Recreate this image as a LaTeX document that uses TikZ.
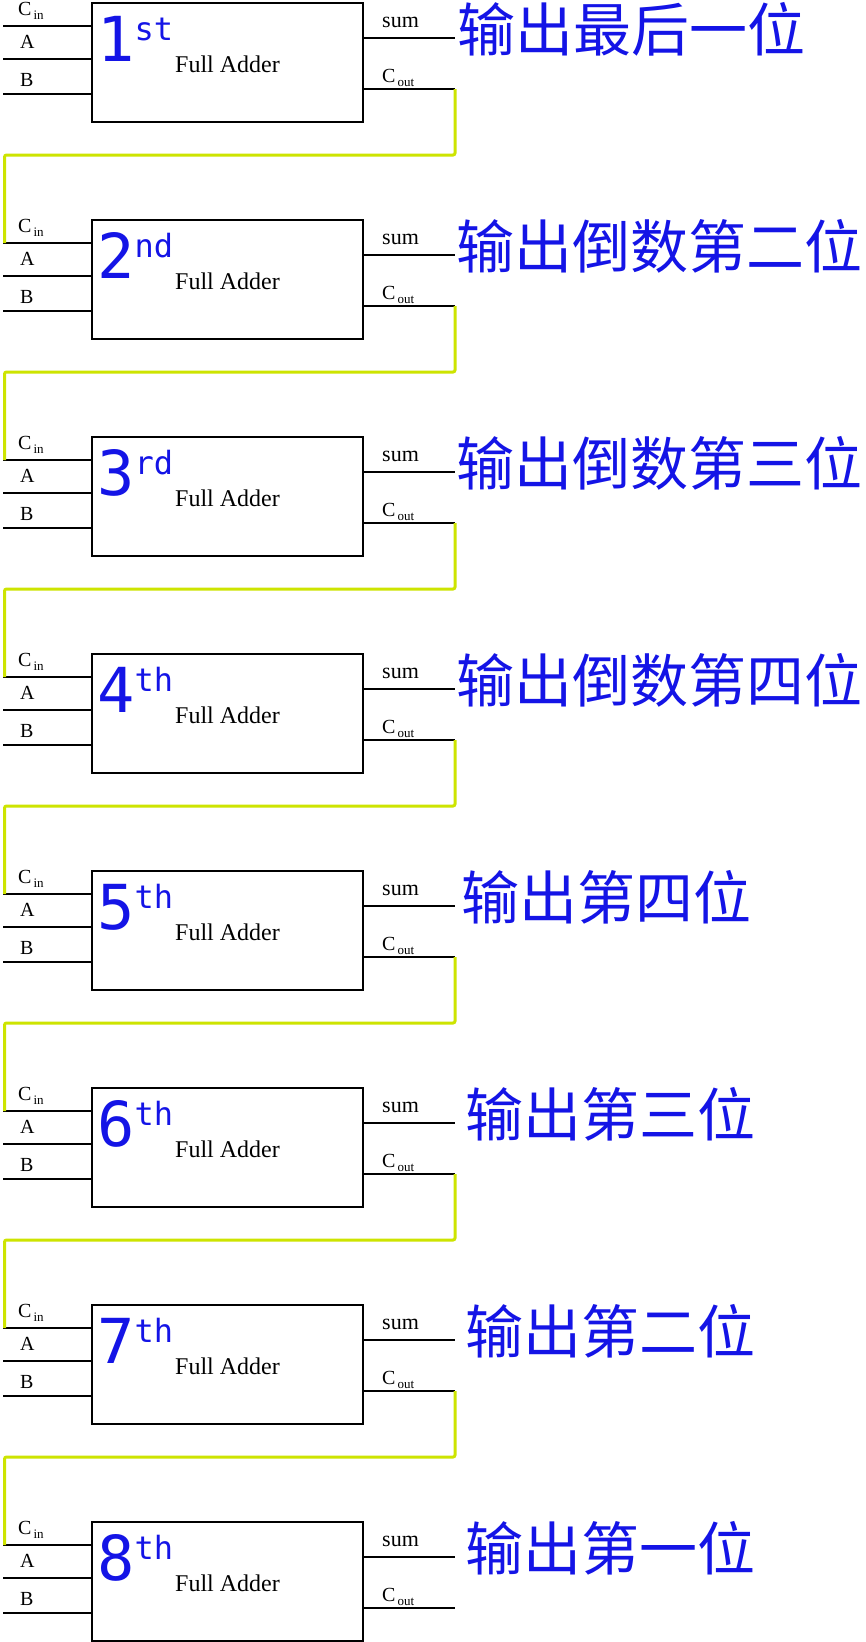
\documentclass[tikz,border=0pt]{standalone}
\usepackage{fontspec}
\setmainfont{Liberation Serif}
\newfontfamily\cjk{Noto Sans CJK SC}
\newfontfamily\monof{DejaVu Sans Mono}
\definecolor{lblue}{RGB}{20,20,230}
\definecolor{ylw}{RGB}{205,228,0}
\tikzset{
  fa/.style={draw, line width=1.5pt, minimum width=271pt, minimum height=119pt, anchor=north west, inner sep=0pt, outer sep=0pt},
  wire/.style={line width=1.2pt},
  boldwire/.style={line width=2pt},
  carry/.style={draw=ylw, line width=3pt, rounded corners=2pt},
  lbl/.style={inner sep=0pt, anchor=base west, font=\fontsize{20}{20}\selectfont},
  sumlbl/.style={inner sep=0pt, anchor=base west, font=\fontsize{22}{22}\selectfont},
  falbl/.style={inner sep=0pt, anchor=base west, font=\fontsize{24}{24}\selectfont},
  ordlbl/.style={inner sep=0pt, anchor=base west, text=lblue, font=\monof},
  cnlbl/.style={inner sep=0pt, anchor=base west, text=lblue, font=\cjk\fontsize{58}{58}\selectfont},
}
\newcommand{\subtxt}[1]{{\fontsize{13}{13}\selectfont\raisebox{-4pt}{#1}}}
\begin{document}
\begin{tikzpicture}[x=1pt, y=-1pt]
\useasboundingbox (0,0) rectangle (866,1642);
\foreach \i/\osup/\txt/\tx in {1/st/输出最后一位/460, 2/nd/输出倒数第二位/459, 3/rd/输出倒数第三位/459, 4/th/输出倒数第四位/459, 5/th/输出第四位/464, 6/th/输出第三位/468, 7/th/输出第二位/468, 8/th/输出第一位/468}{
  \pgfmathsetmacro\T{3+(\i-1)*217}
  \node[fa] (box\i) at (92,\T) {};
  % input wires
  \coordinate (cin\i) at (3,{\T+23});
  \coordinate (cy\i) at (4.5,{\T+23});
  \coordinate (ain\i) at (3,{\T+56});
  \coordinate (bin\i) at (3,{\T+91});
  \draw[boldwire] (cin\i) -- (cin\i -| box\i.west);
  \draw[boldwire] (ain\i) -- (ain\i -| box\i.west);
  \draw[wire] (bin\i) -- (bin\i -| box\i.west);
  % output wires
  \coordinate (sumR\i) at (455,{\T+35});
  \coordinate (coutR\i) at (455,{\T+86});
  \draw[wire] (sumR\i -| box\i.east) -- (sumR\i);
  \draw[wire] (coutR\i -| box\i.east) -- (coutR\i);
  % labels
  \node[lbl] (lcin\i) at (18,{\T+12}) {C\hspace{2pt}\subtxt{in}};
  \node[lbl] (la\i) at (20,{\T+45}) {A};
  \node[lbl] (lb\i) at (20,{\T+83}) {B};
  \node[sumlbl] (lsum\i) at (382,{\T+24}) {sum};
  \node[lbl] (lcout\i) at (382,{\T+79}) {C\hspace{2pt}\subtxt{out}};
  \node[falbl] (lfa\i) at (175,{\T+69}) {Full Adder};
  \node[ordlbl] (lord\i) at (97,{\T+58}) {\fontsize{62}{62}\selectfont\i\raisebox{21pt}{\fontsize{32}{32}\selectfont\osup}};
  \node[cnlbl] (lcn\i) at ({\tx-3},{\T+48}) {\txt};
}
\foreach \i/\j in {1/2,2/3,3/4,4/5,5/6,6/7,7/8}{
  \pgfmathsetmacro\T{3+(\i-1)*217}
  \draw[carry] (coutR\i) -- (455,{\T+152}) -| (cy\j);
}
\end{tikzpicture}
\end{document}
